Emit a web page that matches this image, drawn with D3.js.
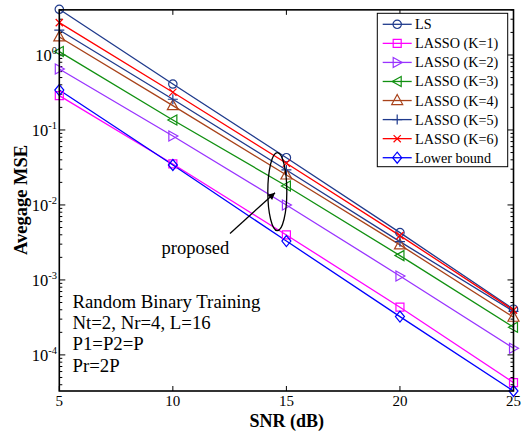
<!DOCTYPE html>
<html>
<head>
<meta charset="utf-8">
<script src="https://cdn.jsdelivr.net/npm/d3@7"></script>
<style>
  html, body { margin: 0; padding: 0; background: #fff; }
  svg { display: block; font-family: "Liberation Serif", "Times New Roman", serif; }
</style>
</head>
<body>
<svg id="chart" width="523" height="434"></svg>
<script>
// SNR points (dB)
const snr = [5, 10, 15, 20, 25];

// Average MSE per estimator
const ls         = [4.07, 0.41, 0.0427, 0.00427, 4.07e-4];
const lassoK1    = [0.287, 0.0352, 0.00398, 4.33e-4, 4.27e-5];
const lassoK2    = [0.65, 0.0832, 0.0100, 0.00113, 1.23e-4];
const lassoK3    = [1.11, 0.136, 0.0179, 0.00211, 2.34e-4];
const lassoK4    = [1.74, 0.211, 0.0251, 0.00293, 3.18e-4];
const lassoK5    = [2.15, 0.257, 0.0293, 0.00324, 3.8e-4];
const lassoK6    = [2.70, 0.318, 0.0360, 0.0039, 3.95e-4];
const lowerBound = [0.341, 0.0341, 0.0033, 3.24e-4, 3.3e-5];

const seriesNames = ["LS", "LASSO (K=1)", "LASSO (K=2)", "LASSO (K=3)",
                     "LASSO (K=4)", "LASSO (K=5)", "LASSO (K=6)", "Lower bound"];
const xTicks = [5, 10, 15, 20, 25];
const yExponents = [-4, -3, -2, -1, 0];
const noteLines = ["Random Binary Training", "Nt=2, Nr=4, L=16", "P1=P2=P", "Pr=2P"];

const seriesValues = [ls, lassoK1, lassoK2, lassoK3, lassoK4, lassoK5, lassoK6, lowerBound];
const colors  = ["#1f3a8c", "#ff00ff", "#9933ff", "#119011", "#a8421a", "#1f3a8c", "#ff0000", "#0000ff"];
const markers = ["circle", "square", "triRight", "triLeft", "triUp", "plus", "cross", "diamond"];

const svg = d3.select("#chart");
const plotLeft = 59.3, plotRight = 513.5, plotTop = 9.85, plotBottom = 391;

const x = d3.scaleLinear().domain([5, 25]).range([plotLeft, plotRight]);
const y = d3.scaleLog().domain([3.3e-5, 4]).range([plotBottom, plotTop]);

// marker glyph paths centered at the origin
function markerPath(type) {
  const p = d3.path();
  switch (type) {
    case "circle": p.arc(0, 0, 4.2, 0, 2 * Math.PI); break;
    case "square": p.rect(-4, -4, 8, 8); break;
    case "triRight": p.moveTo(-4, -5); p.lineTo(5, 0); p.lineTo(-4, 5); p.closePath(); break;
    case "triLeft": p.moveTo(4, -5); p.lineTo(-5, 0); p.lineTo(4, 5); p.closePath(); break;
    case "triUp": p.moveTo(0, -6); p.lineTo(5.5, 4); p.lineTo(-5.5, 4); p.closePath(); break;
    case "plus": p.moveTo(-5, 0); p.lineTo(5, 0); p.moveTo(0, -5); p.lineTo(0, 5); break;
    case "cross": p.moveTo(-3.6, -3.6); p.lineTo(3.6, 3.6); p.moveTo(-3.6, 3.6); p.lineTo(3.6, -3.6); break;
    case "diamond": p.moveTo(0, -5.5); p.lineTo(4.5, 0); p.lineTo(0, 5.5); p.lineTo(-4.5, 0); p.closePath(); break;
  }
  return p.toString();
}

// ticks: major decades and minor 2..9 on the log axis
const minorTicks = [];
for (let e = -5; e <= 0; e++) {
  for (let m = 2; m <= 9; m++) {
    const v = m * Math.pow(10, e);
    if (v >= 3.3e-5 && v <= 4) minorTicks.push(v);
  }
}
const majorTicks = yExponents.map(e => Math.pow(10, e));

const axes = svg.append("g").attr("stroke", "#000").attr("fill", "none");
// left/right tick marks
majorTicks.forEach(v => {
  axes.append("line").attr("x1", plotLeft).attr("x2", plotLeft + 6).attr("y1", y(v)).attr("y2", y(v)).attr("stroke-width", 1);
  axes.append("line").attr("x1", plotRight).attr("x2", plotRight - 6).attr("y1", y(v)).attr("y2", y(v)).attr("stroke-width", 1);
});
minorTicks.forEach(v => {
  axes.append("line").attr("x1", plotLeft).attr("x2", plotLeft + 3).attr("y1", y(v)).attr("y2", y(v)).attr("stroke-width", 1);
  axes.append("line").attr("x1", plotRight).attr("x2", plotRight - 3).attr("y1", y(v)).attr("y2", y(v)).attr("stroke-width", 1);
});
// bottom/top tick marks
xTicks.forEach(t => {
  axes.append("line").attr("x1", x(t)).attr("x2", x(t)).attr("y1", plotBottom).attr("y2", plotBottom - 5).attr("stroke-width", 1);
  axes.append("line").attr("x1", x(t)).attr("x2", x(t)).attr("y1", plotTop).attr("y2", plotTop + 5).attr("stroke-width", 1);
});

// series lines and markers
const line = d3.line().x((d, i) => x(snr[i])).y(d => y(d));
seriesValues.forEach((vals, s) => {
  svg.append("path").datum(vals).attr("d", line)
    .attr("fill", "none").attr("stroke", colors[s]).attr("stroke-width", 1.3);
});
seriesValues.forEach((vals, s) => {
  svg.append("g").selectAll("path").data(vals).join("path")
    .attr("transform", (d, i) => `translate(${x(snr[i])},${y(d)})`)
    .attr("d", markerPath(markers[s]))
    .attr("fill", "none").attr("stroke", colors[s]).attr("stroke-width", 1.2);
});

// plot frame
svg.append("rect").attr("x", plotLeft).attr("y", plotTop).attr("width", plotRight - plotLeft).attr("height", plotBottom - plotTop)
  .attr("fill", "none").attr("stroke", "#000").attr("stroke-width", 1.6);

// tick labels
svg.append("g").selectAll("text").data(xTicks).join("text")
  .attr("x", d => x(d)).attr("y", 406).attr("text-anchor", "middle")
  .attr("font-size", 15).text(d => d);

const yl = svg.append("g").selectAll("text").data(yExponents).join("text")
  .attr("x", 57).attr("y", d => y(Math.pow(10, d)) + 6).attr("text-anchor", "end")
  .attr("font-size", 16.5);
yl.append("tspan").text("10");
yl.append("tspan").attr("dy", -7).attr("font-size", 10.5).text(d => d);

// axis titles
svg.append("text").attr("x", 286.7).attr("y", 427).attr("text-anchor", "middle")
  .attr("font-size", 18).attr("font-weight", "bold").text("SNR (dB)");
svg.append("text").attr("transform", "translate(27,200) rotate(-90)")
  .attr("text-anchor", "middle").attr("font-size", 18.5).attr("font-weight", "bold").text("Avegage MSE");

// annotation
svg.append("g").selectAll("text").data(noteLines).join("text")
  .attr("x", 72.5).attr("y", (d, i) => 308 + i * 21.2)
  .attr("font-size", 18.8).text(d => d);

svg.append("ellipse").attr("cx", x(14.6)).attr("cy", 191.7).attr("rx", 9.5).attr("ry", 39)
  .attr("fill", "none").attr("stroke", "#000").attr("stroke-width", 1.3);

svg.append("defs").append("marker").attr("id", "arrowHead")
  .attr("viewBox", "0 0 10 10").attr("refX", 10).attr("refY", 5)
  .attr("markerWidth", 9).attr("markerHeight", 7).attr("markerUnits", "userSpaceOnUse")
  .attr("orient", "auto")
  .append("path").attr("d", "M0,0 L10,5 L0,10 Z").attr("fill", "#000");
svg.append("line").attr("x1", 230).attr("y1", 233.5).attr("x2", 275).attr("y2", 192.7)
  .attr("stroke", "#000").attr("stroke-width", 1.3).attr("marker-end", "url(#arrowHead)");
svg.append("text").attr("x", 161.5).attr("y", 253.5).attr("font-size", 18.5).text("proposed");

// legend
const lg = svg.append("g");
lg.append("rect").attr("x", 377.3).attr("y", 13.3).attr("width", 130.4).attr("height", 153.4)
  .attr("fill", "#fff").attr("stroke", "#000").attr("stroke-width", 1);
seriesNames.forEach((name, s) => {
  const cy = 24.3 + s * 19.06;
  lg.append("line").attr("x1", 382.7).attr("x2", 411.7).attr("y1", cy).attr("y2", cy)
    .attr("stroke", colors[s]).attr("stroke-width", 1.3);
  lg.append("path").attr("transform", `translate(397.2,${cy})`).attr("d", markerPath(markers[s]))
    .attr("fill", "none").attr("stroke", colors[s]).attr("stroke-width", 1.2);
  lg.append("text").attr("x", 415).attr("y", cy + 5).attr("font-size", 14.2).text(name);
});
</script>
</body>
</html>
